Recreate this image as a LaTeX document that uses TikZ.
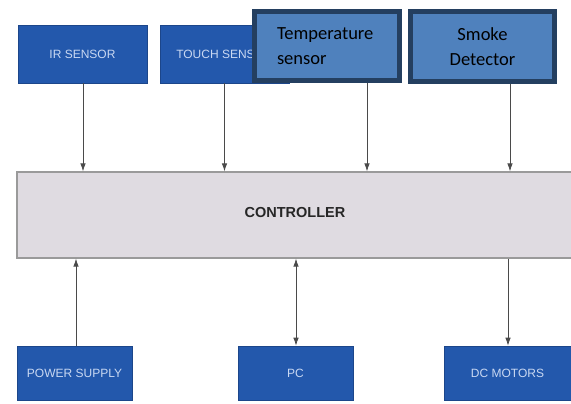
\documentclass[tikz,border=0pt]{standalone}
\usepackage{fontspec}
\setmainfont{Liberation Sans}
\newfontfamily\calib{Carlito}
\usetikzlibrary{arrows.meta}
\definecolor{boxblue}{HTML}{2358AC}
\definecolor{boxtext}{HTML}{C9D8F2}
\definecolor{offblue}{HTML}{4F81BD}
\definecolor{offedge}{HTML}{243F60}
\definecolor{ctrlfill}{HTML}{DFDBE1}
\definecolor{ctrledge}{HTML}{9A9A9A}
\definecolor{wire}{HTML}{4A4A4A}
\tikzset{
  bluebox/.style={draw=boxblue!80!black, line width=0.6pt, fill=boxblue, text=boxtext,
    font=\fontsize{12}{14}\selectfont, inner sep=0pt, minimum height=58pt},
  offbox/.style={draw=offedge, line width=5pt, fill=offblue, text=black,
    font=\calib\fontsize{18.5}{25}\selectfont, inner sep=0pt},
  ctrlbox/.style={draw=ctrledge, line width=1.2pt, fill=ctrlfill, text=black!85,
    font=\bfseries\fontsize{14.5}{17}\selectfont, inner sep=0pt},
  wirearrow/.style={draw=wire, line width=0.8pt, -{Latex[length=8pt,width=5.5pt]}},
  wirearrows/.style={draw=wire, line width=0.8pt, {Latex[length=8pt,width=5.5pt]}-{Latex[length=8pt,width=5.5pt]}}
}
\begin{document}
\begin{tikzpicture}[x=1pt,y=-1pt]
\useasboundingbox (0,0) rectangle (571,404);
% top sensors
\node[bluebox, minimum width=129pt] (ir) at (82.5,54) {IR SENSOR};
\node[bluebox, minimum width=129pt] (touch) at (224.5,54) {TOUCH SENSOR};
\node[offbox, minimum width=145pt, minimum height=69pt, align=left] (temp) at (327,46)
  {\makebox[100pt][l]{Temperature}\\\makebox[100pt][l]{sensor}};
\node[offbox, minimum width=144pt, minimum height=70pt, align=center] (smoke) at (482.5,46.5)
  {Smoke\\Detector};
% controller
\node[ctrlbox, minimum width=558pt, minimum height=86pt] (ctrl) at (296,215) {};
\node[font=\bfseries\fontsize{14.5}{17}\selectfont, text=black!85] (ctrltext) at (295,213) {CONTROLLER};
% bottom
\node[bluebox, minimum width=115pt, minimum height=54pt] (ps) at (74.5,373) {POWER SUPPLY};
\node[bluebox, minimum width=115pt, minimum height=54pt] (pc) at (295.5,373) {PC};
\node[bluebox, minimum width=127pt, minimum height=54pt] (dc) at (507.5,373) {DC MOTORS};
% coordinates for connectors
\coordinate (irb) at ([xshift=0.5pt]ir.south);
\coordinate (tempb) at ([xshift=40pt]temp.south);
\coordinate (smokeb) at ([xshift=27.5pt]smoke.south);
\coordinate (psn) at ([xshift=1.5pt]ps.north);
\coordinate (pcn) at ([xshift=0.5pt]pc.north);
\coordinate (dcn) at ([xshift=0.5pt]dc.north);
% connectors
\draw[wirearrow] (irb) -- (irb |- ctrl.north);
\draw[wirearrow] (touch.south) -- (touch.south |- ctrl.north);
\draw[wirearrow] (tempb) -- (tempb |- ctrl.north);
\draw[wirearrow] (smokeb) -- (smokeb |- ctrl.north);
\draw[wirearrow] (psn) -- (psn |- ctrl.south);
\draw[wirearrows] (pcn |- ctrl.south) -- (pcn);
\draw[wirearrow] (dcn |- ctrl.south) -- (dcn);
\end{tikzpicture}
\end{document}
